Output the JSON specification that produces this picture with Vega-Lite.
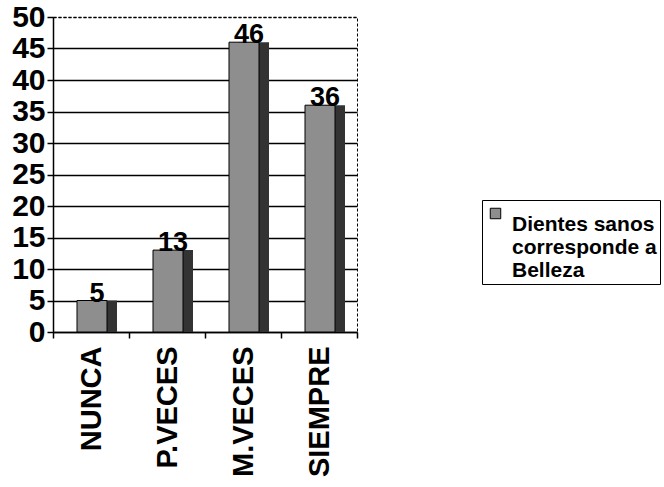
{
  "$schema": "https://vega.github.io/schema/vega-lite/v6.json",
  "width": 304,
  "height": 315,
  "autosize": {"type": "none"},
  "padding": {"left": 53, "top": 17, "right": 307, "bottom": 155},
  "background": "white",
  "config": {
    "view": {"stroke": "black", "strokeDash": [3, 2], "strokeWidth": 1},
    "font": "Liberation Sans"
  },
  "data": {
    "values": [
      {"categoria": "NUNCA", "valor": 5, "serie": "Dientes sanos corresponde a Belleza"},
      {"categoria": "P.VECES", "valor": 13, "serie": "Dientes sanos corresponde a Belleza"},
      {"categoria": "M.VECES", "valor": 46, "serie": "Dientes sanos corresponde a Belleza"},
      {"categoria": "SIEMPRE", "valor": 36, "serie": "Dientes sanos corresponde a Belleza"}
    ]
  },
  "encoding": {
    "x": {
      "field": "categoria",
      "type": "nominal",
      "sort": null,
      "scale": {"paddingInner": 0, "paddingOuter": 0},
      "axis": {
        "title": null,
        "labelAngle": -90,
        "labelFont": "Liberation Sans",
        "labelFontWeight": "bold",
        "labelFontSize": 29,
        "labelColor": "black",
        "labelPadding": 8,
        "domainColor": "black",
        "domainWidth": 1.5,
        "tickColor": "black",
        "tickSize": 6,
        "tickWidth": 1.5,
        "tickBand": "extent"
      }
    },
    "y": {
      "field": "valor",
      "type": "quantitative",
      "scale": {"domain": [0, 50], "nice": false},
      "axis": {
        "title": null,
        "values": [0, 5, 10, 15, 20, 25, 30, 35, 40, 45, 50],
        "labelFont": "Liberation Sans",
        "labelFontWeight": "bold",
        "labelFontSize": 30,
        "labelColor": "black",
        "labelPadding": 2,
        "domainColor": "black",
        "domainWidth": 1.5,
        "tickColor": "black",
        "tickSize": 6,
        "tickWidth": 1.5,
        "gridColor": "black",
        "gridWidth": 1.5,
        "gridDash": {"condition": {"test": "datum.value == 50", "value": [3, 2]}, "value": []},
        "gridOpacity": 1
      }
    }
  },
  "layer": [
    {
      "mark": {"type": "bar", "color": "#333333", "xOffset": 11, "size": 30},
      "encoding": {}
    },
    {
      "mark": {"type": "bar", "stroke": "black", "strokeWidth": 1, "size": 30, "xOffset": 1},
      "encoding": {
        "color": {
          "field": "serie",
          "type": "nominal",
          "scale": {"range": ["#8e8e8e"]},
          "legend": {
            "title": null,
            "orient": "none",
            "legendX": 429,
            "legendY": 183,
            "symbolType": "square",
            "symbolSize": 110,
            "symbolStrokeColor": "black",
            "symbolStrokeWidth": 1,
            "labelFont": "Liberation Sans",
            "labelFontWeight": "bold",
            "labelFontSize": 21,
            "labelColor": "black",
            "labelLimit": 300,
            "labelExpr": "['Dientes sanos', 'corresponde a', 'Belleza']",
            "labelBaseline": "top",
            "labelOffset": 6,
            "strokeColor": "black",
            "padding": 3
          }
        }
      }
    },
    {
      "mark": {
        "type": "text",
        "baseline": "alphabetic",
        "dy": 1,
        "dx": 6,
        "font": "Liberation Sans",
        "fontWeight": "bold",
        "fontSize": 27,
        "color": "black"
      },
      "encoding": {"text": {"field": "valor", "type": "quantitative"}}
    }
  ]
}
